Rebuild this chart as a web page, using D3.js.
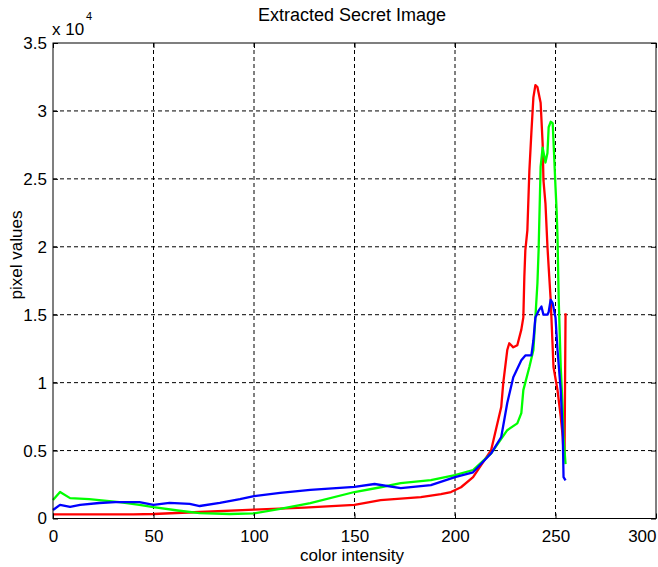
<!DOCTYPE html>
<html><head><meta charset="utf-8">
<script src="https://cdn.jsdelivr.net/npm/d3@7/dist/d3.min.js"></script>
<style>body{margin:0;background:#fff;}svg{display:block;font-family:"Liberation Sans",Arial,sans-serif;}</style>
</head><body><svg id="c" width="658" height="567"></svg>
<script>
const xTicks = [0, 50, 100, 150, 200, 250, 300];
const yTicks = [0, 5000, 10000, 15000, 20000, 25000, 30000, 35000];
const yTickLabels = ["0", "0.5", "1", "1.5", "2", "2.5", "3", "3.5"];

const redX = [0, 20, 40, 50, 73, 100, 125, 150, 163, 183, 193, 198, 203, 209, 218, 223, 224, 226, 227, 229, 231, 233, 234, 234.5, 235, 236, 237, 238, 239, 240, 241, 242.6, 243.6, 244, 245, 246, 246.6, 247.6, 249, 251, 252.6, 253.6, 254, 254.5, 255];
const redY = [300, 300, 300, 330, 480, 650, 800, 1000, 1360, 1580, 1800, 1950, 2300, 3050, 5040, 8200, 9970, 12400, 12900, 12600, 12750, 13900, 14800, 17800, 19760, 21200, 25600, 28400, 31000, 31900, 31760, 30600, 27600, 24900, 23200, 20000, 18500, 16100, 11150, 9450, 7500, 6000, 4800, 4700, 15100];

const greenX = [0, 3.5, 8.5, 18, 23, 33, 43, 50, 63, 73, 88, 100, 113, 128, 150, 163, 173, 188, 200, 209, 218, 226, 231, 233, 234, 237, 239, 240, 241, 241.6, 242.6, 243.6, 245, 246, 246.6, 247.6, 248.6, 249, 250, 250.6, 251, 251.6, 252.6, 253.6, 254, 255];
const greenY = [1360, 1950, 1500, 1430, 1360, 1200, 1000, 830, 570, 400, 330, 370, 700, 1140, 1950, 2300, 2600, 2830, 3200, 3570, 4800, 6500, 7000, 7760, 9450, 11150, 12400, 14800, 17300, 19760, 25900, 27300, 26200, 26900, 28800, 29200, 29100, 27800, 24400, 22500, 20700, 16100, 11150, 8000, 6000, 4000];

const blueX = [0, 3.5, 8.5, 13.5, 23, 31, 43, 50, 58, 68, 73, 83, 93, 100, 113, 128, 150, 160, 173, 188, 200, 209, 218, 223, 226, 229, 233, 235, 238, 239, 240, 241.6, 243, 244, 246, 246.6, 247.6, 248.6, 250, 251, 252.6, 253.6, 254, 255];
const blueY = [625, 1000, 850, 1000, 1140, 1200, 1200, 1000, 1150, 1080, 920, 1150, 1430, 1650, 1880, 2100, 2330, 2540, 2240, 2460, 3050, 3400, 4800, 6000, 8500, 10400, 11650, 12000, 12000, 13100, 14800, 15300, 15600, 15000, 15000, 15200, 16100, 15850, 14800, 12400, 9450, 6300, 3050, 2800];

const series = [
  {x: redX, y: redY, color: "#ff0000"},
  {x: greenX, y: greenY, color: "#00ff00"},
  {x: blueX, y: blueY, color: "#0000ff"}
];

const L = 53, R = 656, T = 43, B = 518.5;
const svg = d3.select("#c");
const x = d3.scaleLinear().domain([0, 300]).range([L, R]);
const y = d3.scaleLinear().domain([0, 35000]).range([B, T]);

// grid
const g = svg.append("g");
xTicks.forEach(t => {
  if (t === 0 || t === 300) return;
  g.append("line").attr("x1", x(t)).attr("x2", x(t)).attr("y1", T).attr("y2", B)
    .attr("stroke", "#000").attr("stroke-dasharray", "4,3").attr("stroke-width", 1);
});
yTicks.forEach(t => {
  if (t === 0 || t === 35000) return;
  g.append("line").attr("x1", L).attr("x2", R).attr("y1", y(t)).attr("y2", y(t))
    .attr("stroke", "#000").attr("stroke-dasharray", "4,3").attr("stroke-width", 1);
});

// lines
const line = d3.line().x(d => x(d[0])).y(d => y(d[1]));
series.forEach(s => {
  const pts = s.x.map((v, i) => [v, s.y[i]]);
  svg.append("path").attr("d", line(pts)).attr("fill", "none")
    .attr("stroke", s.color).attr("stroke-width", 2.3).attr("stroke-linejoin", "round");
});

// axes
const xAxis = d3.axisBottom(x).tickValues(xTicks).tickSizeInner(-5).tickSizeOuter(0).tickPadding(11);
const yAxis = d3.axisLeft(y).tickValues(yTicks).tickFormat((d, i) => yTickLabels[i]).tickSizeInner(-5).tickSizeOuter(0).tickPadding(6);
const xa = svg.append("g").attr("transform", `translate(0,${B})`).call(xAxis);
const ya = svg.append("g").attr("transform", `translate(${L},0)`).call(yAxis);
const xTop = svg.append("g").attr("transform", `translate(0,${T})`).call(d3.axisTop(x).tickValues(xTicks).tickSizeInner(-5).tickSizeOuter(0).tickFormat(""));
const yRight = svg.append("g").attr("transform", `translate(${R},0)`).call(d3.axisRight(y).tickValues(yTicks).tickSizeInner(-5).tickSizeOuter(0).tickFormat(""));
[xa, ya, xTop, yRight].forEach(a => {
  a.select(".domain").remove();
  a.selectAll("line").attr("stroke", "#000");
  a.selectAll("text").attr("font-size", 17).attr("fill", "#000").attr("font-family", "Liberation Sans, Arial, sans-serif");
});
// last x tick label kept inside the window
xa.selectAll(".tick text").filter(d => d === 300).attr("text-anchor", "end").attr("dx", 0);
svg.append("rect").attr("x", L).attr("y", T).attr("width", R - L).attr("height", B - T)
  .attr("fill", "none").attr("stroke", "#000").attr("stroke-width", 1);

// labels
svg.append("text").attr("x", 352).attr("y", 21).attr("text-anchor", "middle").attr("font-size", 18).text("Extracted Secret Image");
svg.append("text").attr("x", 352).attr("y", 561).attr("text-anchor", "middle").attr("font-size", 17).text("color intensity");
svg.append("text").attr("transform", "translate(22,255) rotate(-90)").attr("text-anchor", "middle").attr("font-size", 17).text("pixel values");
svg.append("text").attr("x", 52).attr("y", 35).attr("font-size", 17).text("x 10");
svg.append("text").attr("x", 86).attr("y", 20).attr("font-size", 11).text("4");
</script></body></html>
